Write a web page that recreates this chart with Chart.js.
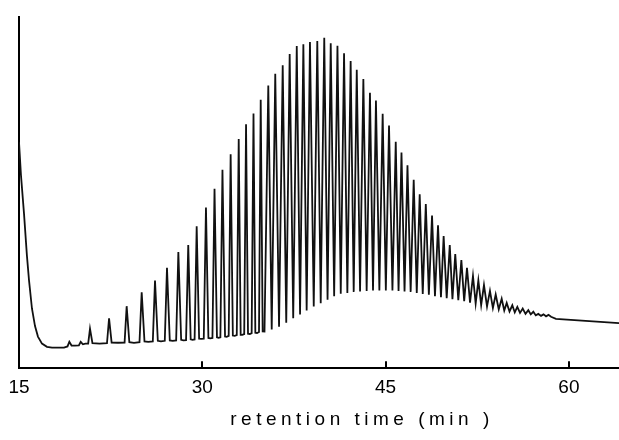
<!DOCTYPE html>
<html>
<head>
<meta charset="utf-8">
<script src="https://cdn.jsdelivr.net/npm/chart.js@4.4.1/dist/chart.umd.min.js"></script>
<style>
  html, body { margin: 0; padding: 0; background: #fff; }
  #wrap { width: 619px; height: 440px; position: relative; }
</style>
</head>
<body>
<div id="wrap"><canvas id="c" width="619" height="440"></canvas></div>
<script>
// Retention time (min) of each vertex of the trace:
// solvent tail, then for every peak: foot / apex / foot / valley (early peaks) or apex / valley (later peaks)
const retentionTimes = [
  15.00, 15.16, 15.41, 15.65, 15.82, 16.06, 16.31, 16.55, 16.88, 17.29, 17.70, 18.68,
  18.97, 19.12, 19.30, 19.58,
  19.90, 20.05, 20.23, 20.43,
  20.66, 20.81, 21.01, 21.59,
  22.20, 22.37, 22.58, 23.10,
  23.64, 23.81, 24.03, 24.41,
  24.86, 25.04, 25.27, 25.58,
  25.95, 26.13, 26.36, 26.62,
  26.93, 27.11, 27.34, 27.58,
  27.86, 28.04, 28.27, 28.45,
  28.67, 28.85, 29.05, 29.20,
  29.37, 29.54, 29.74, 29.92,
  30.12, 30.30, 30.50, 30.65,
  30.83, 31.00, 31.20, 31.33,
  31.48, 31.65, 31.86, 31.99,
  32.16, 32.32, 32.50, 32.65,
  32.82, 32.98, 33.14, 33.27,
  33.43, 33.58, 33.74, 33.89,
  34.04, 34.19, 34.34, 34.48,
  34.64, 34.78, 34.94, 35.09,
  35.40, 35.68, 35.97, 36.28, 36.58, 36.87, 37.15, 37.44, 37.73, 38.00,
  38.27, 38.54, 38.81, 39.12, 39.41, 39.69, 39.98, 40.25, 40.51, 40.79,
  41.06, 41.33, 41.60, 41.87, 42.14, 42.39, 42.64, 42.91, 43.18, 43.45,
  43.72, 43.97, 44.21, 44.49, 44.76, 45.02, 45.28, 45.56, 45.83, 46.06,
  46.30, 46.55, 46.79, 47.05, 47.30, 47.55, 47.79, 48.04, 48.29, 48.54,
  48.80, 49.04, 49.29, 49.53, 49.75, 50.00, 50.25, 50.47, 50.70, 50.95,
  51.20, 51.43, 51.66, 51.91, 52.15, 52.37, 52.59, 52.82, 53.05, 53.30,
  53.54, 53.78, 54.01, 54.26, 54.50, 54.71, 54.91, 55.14, 55.37, 55.57,
  55.78, 56.00, 56.22, 56.45, 56.68, 56.88, 57.09, 57.29, 57.50, 57.72,
  57.92, 58.13, 58.33, 58.54, 58.94, 64.10
];
// Detector response (relative units, 0-100) at each vertex above
const detectorSignal = [
  64.4, 55.0, 44.0, 32.0, 25.0, 17.0, 12.0, 9.0, 7.0, 6.1, 5.85, 5.85,
  6.2, 7.52, 6.45, 6.41,
  6.5, 7.52, 6.8, 6.97,
  7.0, 11.23, 7.1, 6.97,
  7.1, 14.21, 7.3, 7.24,
  7.3, 17.66, 7.4, 7.24,
  7.4, 21.59, 7.6, 7.52,
  7.6, 24.93, 7.8, 7.66,
  7.8, 28.56, 7.9, 7.80,
  7.9, 33.07, 8.1, 7.94,
  8.0, 35.10, 8.2, 8.08,
  8.2, 40.40, 8.4, 8.36,
  8.4, 45.77, 8.6, 8.50,
  8.6, 51.07, 8.8, 8.64,
  8.8, 56.47, 9.0, 8.92,
  9.2, 60.93, 9.3, 9.19,
  9.4, 65.28, 9.5, 9.47,
  9.7, 69.46, 9.8, 9.75,
  10.0, 72.52, 10.1, 10.03,
  10.3, 76.42, 10.5, 10.45,
  80.52, 11.00, 83.86, 11.84, 86.28, 12.95, 89.43, 14.21, 91.74, 15.32,
  92.22, 16.44, 92.86, 17.55, 93.14, 18.53, 94.08, 19.50, 92.50, 20.48,
  91.80, 21.17, 89.71, 21.45, 87.48, 21.73, 84.97, 21.87, 82.33, 22.01,
  78.43, 22.15, 76.20, 22.15, 72.44, 22.15, 69.09, 22.15, 64.50, 22.01,
  61.43, 21.87, 57.81, 21.73, 53.63, 21.45, 49.51, 21.17, 46.72, 20.90,
  43.46, 20.48, 40.68, 20.20, 37.61, 19.92, 35.10, 19.64, 32.51, 19.36,
  30.79, 19.08, 28.61, 18.67, 26.27, 18.39, 24.99, 17.97, 23.68, 17.55,
  22.01, 17.13, 20.98, 16.72, 19.78, 16.44, 18.58, 16.16, 17.91, 15.88,
  17.47, 15.74, 16.99, 15.46, 16.52, 15.32, 16.07, 15.04, 15.46, 14.90,
  15.32, 14.77, 15.18, 14.63, 14.07, 12.82
];
const tickValues = [15, 30, 45, 60];
const axisTitle = 'retention time (min )';

const FONT = '"Liberation Sans", Arial, sans-serif';

const innerTicks = {
  id: 'innerTicks',
  afterDraw(chart) {
    const xs = chart.scales.x, ca = chart.chartArea, ctx = chart.ctx;
    ctx.save();
    ctx.strokeStyle = '#000';
    ctx.lineWidth = 2;
    tickValues.forEach(v => {
      if (v === xs.min) return;
      const px = Math.round(xs.getPixelForValue(v));
      ctx.beginPath();
      ctx.moveTo(px, ca.bottom);
      ctx.lineTo(px, ca.bottom - 7);
      ctx.stroke();
    });
    ctx.fillStyle = '#000';
    ctx.font = '19px ' + FONT;
    ctx.letterSpacing = '4.5px';
    ctx.textAlign = 'center';
    ctx.textBaseline = 'middle';
    ctx.fillText(axisTitle, 362, ca.bottom + 52);
    ctx.restore();
  }
};

new Chart(document.getElementById('c'), {
  type: 'line',
  data: {
    datasets: [{
      data: retentionTimes.map((t, i) => ({ x: t, y: detectorSignal[i] })),
      borderColor: '#111',
      borderWidth: 1.8,
      pointRadius: 0,
      tension: 0,
      fill: false
    }]
  },
  options: {
    responsive: false,
    animation: false,
    events: [],
    layout: { padding: { left: 19, top: 17, right: 0, bottom: 33 } },
    plugins: { legend: { display: false }, tooltip: { enabled: false } },
    scales: {
      x: {
        type: 'linear',
        min: 15,
        max: 64.10,
        afterBuildTicks: s => { s.ticks = tickValues.map(v => ({ value: v })); },
        ticks: {
          color: '#000',
          font: { family: FONT, size: 19 },
          padding: 8,
          maxRotation: 0,
          autoSkip: false,
          callback: v => String(v)
        },
        grid: { display: false, drawTicks: false },
        border: { display: true, color: '#000', width: 2 }
      },
      y: {
        min: 0,
        max: 100,
        ticks: { display: false },
        grid: { display: false, drawTicks: false },
        border: { display: true, color: '#000', width: 2 }
      }
    }
  },
  plugins: [innerTicks]
});
</script>
</body>
</html>
